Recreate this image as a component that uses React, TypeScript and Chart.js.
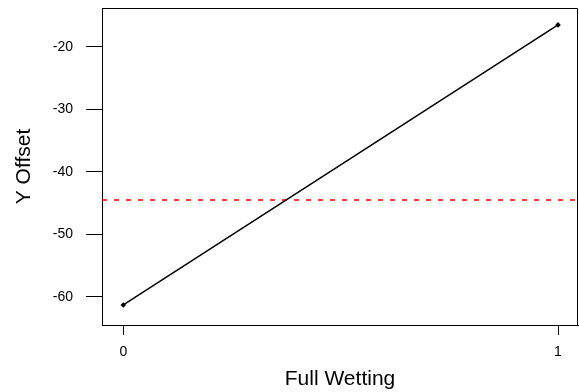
import React, { useEffect, useRef } from "react";
import { Chart, registerables } from "chart.js";

Chart.register(...registerables);

const xValues = [0, 1];
const yValues = [-61.3, -16.5];
const referenceY = -44.5;
const xTickValues = [0, 1];
const yTickValues = [-60, -50, -40, -30, -20];
const xMin = -0.049;
const xMax = 1.046;
const yMin = -64.5;
const yMax = -13.8;

export default function App() {
  const ref = useRef<HTMLCanvasElement | null>(null);
  useEffect(() => {
    document.body.style.margin = "0";
    const ctx = ref.current!;
    const boxPlugin = {
      id: "box",
      afterDraw(chart: any) {
        const { ctx, chartArea } = chart;
        ctx.save();
        ctx.strokeStyle = "#000";
        ctx.lineWidth = 1;
        ctx.beginPath();
        ctx.moveTo(chartArea.left, chartArea.top + 0.5);
        ctx.lineTo(chartArea.right - 0.5, chartArea.top + 0.5);
        ctx.lineTo(chartArea.right - 0.5, chartArea.bottom);
        ctx.stroke();
        ctx.restore();
      },
    };
    const zeroPad = (s: any) => {
      s.paddingTop = 0;
      s.paddingBottom = 0;
      s.paddingLeft = 0;
      s.paddingRight = 0;
    };
    const chart = new Chart(ctx, {
      type: "scatter",
      data: {
        datasets: [
          {
            data: xValues.map((x, i) => ({ x, y: yValues[i] })),
            showLine: true,
            borderColor: "#000",
            backgroundColor: "#000",
            borderWidth: 1.5,
            pointRadius: 2.8,
            pointHoverRadius: 0,
            pointBorderWidth: 0,
            pointStyle: "rectRot",
          },
          {
            data: [
              { x: xMin, y: referenceY },
              { x: xMax, y: referenceY },
            ],
            showLine: true,
            borderColor: "#ff0000",
            borderWidth: 1.5,
            borderDash: [5, 7],
            pointRadius: 0,
            pointHoverRadius: 0,
          },
        ],
      },
      options: {
        animation: false,
        responsive: false,
        layout: { autoPadding: false, padding: { top: 8, right: 1, left: 0, bottom: 0 } },
        plugins: { legend: { display: false }, tooltip: { enabled: false } },
        scales: {
          x: {
            type: "linear",
            min: xMin,
            max: xMax,
            afterBuildTicks: (s: any) => {
              s.ticks = xTickValues.map((v) => ({ value: v }));
            },
            afterFit: (s: any) => {
              s.height = 67;
              zeroPad(s);
            },
            grid: {
              drawOnChartArea: false,
              tickLength: 10,
              tickColor: "#000",
              lineWidth: 1,
            },
            border: { display: true, color: "#000", width: 1 },
            ticks: {
              color: "#000",
              font: { family: "Liberation Sans", size: 14 },
              padding: 9,
              maxRotation: 0,
            },
            title: {
              display: true,
              text: "Full Wetting",
              color: "#000",
              font: { family: "Liberation Sans", size: 21 },
              padding: { top: 4, bottom: 0 },
            },
          },
          y: {
            type: "linear",
            min: yMin,
            max: yMax,
            afterBuildTicks: (s: any) => {
              s.ticks = yTickValues.map((v) => ({ value: v }));
            },
            afterFit: (s: any) => {
              s.width = 102;
              zeroPad(s);
            },
            grid: {
              drawOnChartArea: false,
              tickLength: 16,
              tickColor: "#000",
              lineWidth: 1,
            },
            border: { display: true, color: "#000", width: 1 },
            ticks: {
              color: "#000",
              font: { family: "Liberation Sans", size: 14 },
              padding: 13,
            },
            title: {
              display: true,
              text: "Y Offset",
              color: "#000",
              font: { family: "Liberation Sans", size: 21 },
              padding: { top: 12, bottom: 0 },
            },
          },
        },
      },
      plugins: [boxPlugin],
    });
    return () => chart.destroy();
  }, []);
  return <canvas ref={ref} width={579} height={392} style={{ display: "block" }} />;
}
